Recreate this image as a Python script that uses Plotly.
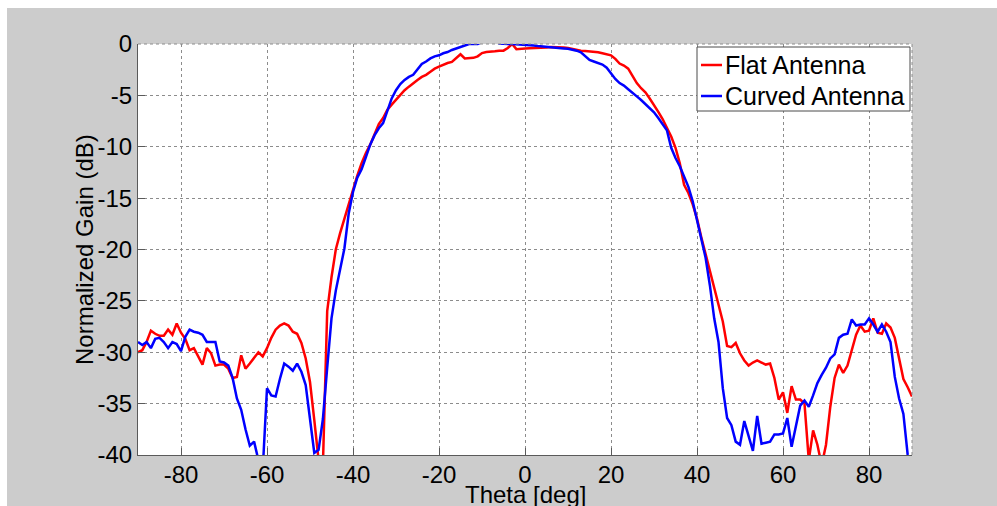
import plotly.graph_objects as go

# Measured radiation patterns, sampled every 1 degree from -90 to 90
theta_deg = list(range(-90, 91))

flat_gain_db = [
    -30.0, -29.8, -29.0, -27.9, -28.2, -28.4, -28.4, -27.8, -28.3, -27.2,   # -90..-81
    -28.1, -28.7, -29.8, -29.6, -30.4, -31.2, -29.6, -30.1, -31.3, -31.2,   # -80..-71
    -31.2, -31.6, -32.5, -32.4, -30.3, -31.6, -31.1, -30.6, -30.0, -30.4,   # -70..-61
    -29.6, -28.6, -27.8, -27.4, -27.2, -27.4, -28.0, -28.2, -29.1, -30.6,   # -60..-51
    -32.9, -36.6, -40.5, -41.0, -26.0, -22.7, -20.0, -18.4, -17.0, -15.5,   # -50..-41
    -14.1, -12.8, -11.6, -10.6, -9.8, -8.8, -7.8, -7.2, -6.4, -5.9,         # -40..-31
    -5.45, -4.9, -4.5, -4.15, -3.8, -3.5, -3.2, -3.0, -2.7, -2.4,           # -30..-21
    -2.2, -2.0, -1.85, -1.75, -1.4, -1.0, -1.4, -1.4, -1.35, -1.2,          # -20..-11
    -0.88, -0.78, -0.78, -0.71, -0.65, -0.65, -0.39, 0.0, -0.5, -0.5,       # -10..-1
    -0.45, -0.42, -0.38, -0.35, -0.33, -0.33, -0.3, -0.3, -0.32, -0.35,     # 0..9
    -0.4, -0.48, -0.6, -0.65, -0.68, -0.7, -0.72, -0.8, -0.9, -0.97,        # 10..19
    -1.1, -1.45, -1.9, -2.1, -2.4, -3.1, -3.8, -4.3, -4.7, -5.3,            # 20..29
    -5.9, -6.6, -7.3, -8.2, -9.0, -10.1, -11.6, -13.7, -14.5, -15.6,        # 30..39
    -17.0, -18.8, -20.5, -22.0, -23.8, -25.5, -27.0, -29.4, -29.5, -29.1,   # 40..49
    -30.1, -30.8, -31.3, -31.0, -30.8, -31.0, -31.2, -31.1, -32.5, -34.6,   # 50..59
    -33.9, -35.9, -33.3, -34.6, -34.6, -35.0, -40.5, -37.6, -39.0, -41.0,   # 60..69
    -39.0, -35.3, -32.5, -31.2, -32.0, -31.3, -29.8, -28.3, -27.4, -28.0,   # 70..79
    -27.9, -26.7, -28.1, -28.2, -27.2, -27.6, -28.6, -30.5, -32.6, -33.4,   # 80..89
    -34.3,                                                                  # 90
]

curved_gain_db = [
    -29.0, -29.3, -29.0, -29.6, -28.7, -28.6, -29.0, -29.6, -29.0, -29.2,   # -90..-81
    -29.9, -28.5, -27.8, -28.0, -28.1, -28.3, -29.0, -29.0, -29.0, -30.9,   # -80..-71
    -31.0, -31.3, -32.5, -34.5, -35.6, -37.5, -39.1, -38.7, -40.5, -41.5,   # -70..-61
    -33.5, -34.2, -34.3, -32.6, -31.1, -31.4, -31.8, -31.1, -31.9, -33.2,   # -60..-51
    -36.5, -39.8, -39.5, -36.5, -31.5, -26.7, -24.0, -22.0, -19.9, -16.5,   # -50..-41
    -14.4, -13.0, -12.2, -11.0, -9.8, -8.9, -8.2, -7.7, -6.6, -5.3,         # -40..-31
    -4.5, -3.9, -3.5, -3.2, -3.0, -2.5, -1.95, -1.7, -1.4, -1.2,            # -30..-21
    -1.1, -0.9, -0.78, -0.58, -0.45, -0.32, -0.13, 0.0, 0.0, 0.0,           # -20..-11
    0.2, 0.4, 0.4, 0.3, 0.05, 0.0, 0.0, 0.0, -0.02, -0.05,                  # -10..-1
    -0.1, -0.12, -0.15, -0.2, -0.25, -0.3, -0.35, -0.38, -0.4, -0.43,       # 0..9
    -0.47, -0.55, -0.65, -0.8, -1.2, -1.55, -1.7, -1.85, -2.0, -2.3,        # 10..19
    -2.9, -3.4, -3.8, -4.05, -4.4, -4.8, -5.1, -5.45, -5.85, -6.25,         # 20..29
    -6.65, -7.2, -7.8, -8.4, -10.1, -11.1, -11.9, -12.9, -13.9, -15.3,      # 30..39
    -17.1, -19.0, -20.8, -23.5, -26.7, -29.0, -33.5, -36.4, -37.1, -38.7,   # 40..49
    -39.0, -36.7, -38.2, -39.6, -36.2, -38.9, -38.8, -38.7, -38.0, -38.0,   # 50..59
    -37.9, -36.4, -39.2, -37.2, -35.2, -34.7, -35.3, -34.2, -33.0, -32.2,   # 60..69
    -31.5, -30.6, -30.2, -28.6, -28.3, -28.2, -26.8, -27.4, -27.3, -27.3,   # 70..79
    -26.7, -27.3, -28.0, -27.3, -28.0, -29.0, -32.4, -34.5, -36.0, -40.0,   # 80..89
    -42.0,                                                                  # 90
]

series_names = ["Flat Antenna", "Curved Antenna"]
series_colors = ["#ff0000", "#0000ff"]

x_tick_vals = [-80, -60, -40, -20, 0, 20, 40, 60, 80]
x_tick_text = ["-80", "-60", "-40", "-20", "0", "20", "40", "60", "80"]
y_tick_vals = [0, -5, -10, -15, -20, -25, -30, -35, -40]
y_tick_text = ["0", "-5", "-10", "-15", "-20", "-25", "-30", "-35", "-40"]

x_title = "Theta [deg]"
y_title = "Normalized Gain (dB)"

W, H = 997, 506
ML, MR, MT, MB = 138, 85, 44, 51
PW, PH = W - ML - MR, H - MT - MB

FONT = "Arial, 'Liberation Sans', sans-serif"
GRID = "#8c8c8c"
AXIS = "#5a5a5a"


def px_x(px):
    return (px - ML) / PW


def px_y(py):
    return (H - MB - py) / PH


fig = go.Figure()
for name, color, gains in zip(series_names, series_colors,
                              [flat_gain_db, curved_gain_db]):
    fig.add_trace(go.Scatter(x=theta_deg, y=gains, mode="lines", name=name,
                             showlegend=False,
                             line=dict(color=color, width=2.5)))

shapes = [
    # white page strips around the grey figure window
    dict(type="rect", xref="paper", yref="paper", layer="below",
         x0=px_x(0), x1=px_x(W), y0=px_y(8), y1=px_y(0),
         fillcolor="white", line=dict(width=0)),
    dict(type="rect", xref="paper", yref="paper", layer="below",
         x0=px_x(0), x1=px_x(7), y0=px_y(H), y1=px_y(0),
         fillcolor="white", line=dict(width=0)),
    # dotted upper and right edges of the axes box
    dict(type="line", xref="paper", yref="paper", x0=0, x1=1, y0=1, y1=1,
         line=dict(color=GRID, width=1, dash="dot")),
    dict(type="line", xref="paper", yref="paper", x0=1, x1=1, y0=0, y1=1,
         line=dict(color=GRID, width=1, dash="dot")),
    # legend box
    dict(type="rect", xref="paper", yref="paper", layer="above",
         x0=px_x(697), x1=px_x(910), y0=px_y(111), y1=px_y(47),
         fillcolor="white", line=dict(color="#4a4a4a", width=1)),
]

annotations = [
    dict(xref="paper", yref="paper", x=px_x(525), y=px_y(479),
         xanchor="center", yanchor="top", text=x_title, showarrow=False,
         font=dict(family=FONT, size=24, color="black")),
    dict(xref="paper", yref="paper", x=px_x(84), y=px_y(250),
         xanchor="center", yanchor="middle", textangle=-90, text=y_title,
         showarrow=False, font=dict(family=FONT, size=24, color="black")),
]

legend_rows_y = [65, 96]
for name, color, ry in zip(series_names, series_colors, legend_rows_y):
    shapes.append(dict(type="line", xref="paper", yref="paper", layer="above",
                       x0=px_x(701), x1=px_x(722), y0=px_y(ry), y1=px_y(ry),
                       line=dict(color=color, width=2.5)))
    annotations.append(dict(xref="paper", yref="paper", x=px_x(723),
                            y=px_y(ry), xanchor="left", yanchor="middle",
                            text=name, showarrow=False,
                            font=dict(family=FONT, size=25, color="black")))

fig.update_layout(
    width=W, height=H,
    margin=dict(l=ML, r=MR, t=MT, b=MB, pad=0),
    paper_bgcolor="#cccccc",
    plot_bgcolor="white",
    font=dict(family=FONT, size=24, color="black"),
    shapes=shapes,
    annotations=annotations,
    showlegend=False,
    xaxis=dict(
        range=[-90, 90], automargin=False,
        tickmode="array", tickvals=x_tick_vals, ticktext=x_tick_text,
        showgrid=True, gridcolor=GRID, griddash="dot", gridwidth=1,
        zeroline=False,
        showline=True, linecolor=AXIS, linewidth=1,
        ticks="inside", ticklen=7, tickcolor=AXIS,
        tickfont=dict(size=24), ticklabelstandoff=-2,
    ),
    yaxis=dict(
        range=[-40, 0], automargin=False,
        tickmode="array", tickvals=y_tick_vals, ticktext=y_tick_text,
        showgrid=True, gridcolor=GRID, griddash="dot", gridwidth=1,
        zeroline=False,
        showline=True, linecolor=AXIS, linewidth=1,
        ticks="inside", ticklen=7, tickcolor=AXIS,
        tickfont=dict(size=24),
    ),
)

fig.write_html("out.html")
